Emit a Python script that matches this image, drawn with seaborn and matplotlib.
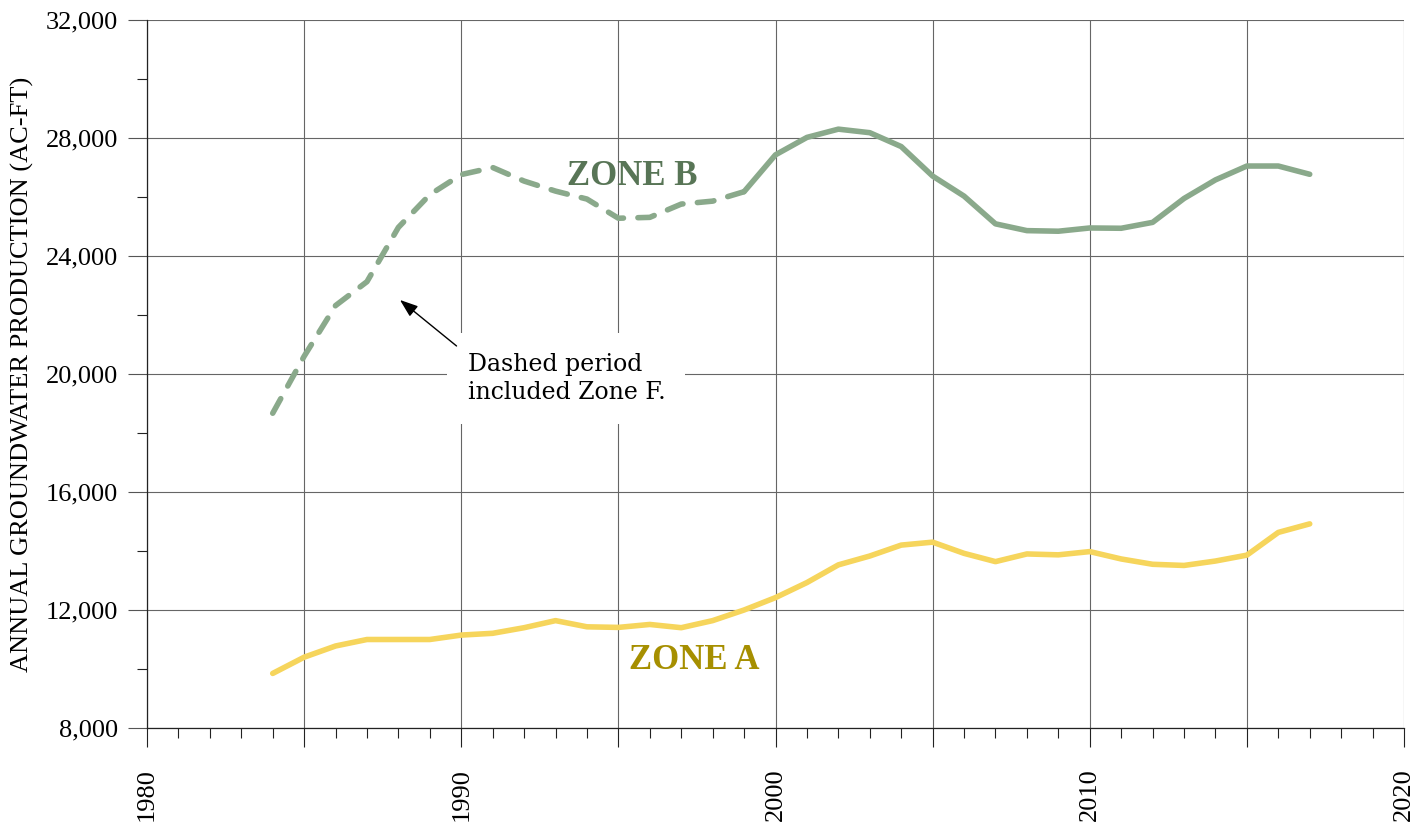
import pandas as pd
import seaborn as sns
import matplotlib.pyplot as plt
from matplotlib.ticker import MultipleLocator, FixedLocator, FuncFormatter

# Dados (produção anual, AC-FT)
years = list(range(1984, 2018))
zone_a = [9850, 10400, 10780, 11000, 11000, 11000, 11150, 11210, 11400, 11640,
          11430, 11410, 11510, 11400, 11640, 12000, 12420, 12930, 13530, 13830,
          14200, 14300, 13920, 13640, 13900, 13870, 13980, 13730, 13550, 13510,
          13660, 13860, 14630, 14920]
zone_b = [18670, 20600, 22320, 23130, 24970, 26080, 26760, 27000, 26540, 26200,
          25930, 25280, 25310, 25760, 25860, 26180, 27430, 28020, 28300, 28180,
          27710, 26710, 26030, 25090, 24860, 24840, 24950, 24940, 25140, 25950,
          26580, 27050, 27050, 26770]
dashed_until = 1999  # período tracejado incluiu a Zona F

x_major = [1980, 1985, 1990, 1995, 2000, 2005, 2010, 2015, 2020]
x_labels = ['1980', '', '1990', '', '2000', '', '2010', '', '2020']
y_major = [8000, 12000, 16000, 20000, 24000, 28000, 32000]

df = pd.DataFrame({'year': years, 'zone_a': zone_a, 'zone_b': zone_b})
df_b_dash = df[df['year'] <= dashed_until]
df_b_solid = df[df['year'] >= dashed_until]

sns.set_style("ticks")
plt.rcParams['font.family'] = ['Liberation Serif', 'DejaVu Serif']
plt.rcParams['text.color'] = 'black'
plt.rcParams['axes.labelcolor'] = 'black'
plt.rcParams['xtick.labelcolor'] = 'black'
plt.rcParams['ytick.labelcolor'] = 'black'

col_a = '#f6d55c'
col_b = '#8aa98b'
lw = 4.0

fig = plt.figure(figsize=(14.28, 8.27), dpi=100)
ax = fig.add_axes([147 / 1428, 1 - 728 / 827, (1404 - 147) / 1428, (728 - 20) / 827])

sns.lineplot(data=df, x='year', y='zone_a', ax=ax, color=col_a, lw=lw,
             solid_capstyle='round', zorder=3)
sns.lineplot(data=df_b_solid, x='year', y='zone_b', ax=ax, color=col_b, lw=lw,
             solid_capstyle='round', zorder=3)
sns.lineplot(data=df_b_dash, x='year', y='zone_b', ax=ax, color=col_b, lw=lw,
             zorder=3)
ax.lines[-1].set_dashes((3.0, 2.6))
ax.lines[-1].set_dash_capstyle('round')

ax.set_xlim(1980, 2020)
ax.set_ylim(8000, 32000)

ax.xaxis.set_major_locator(FixedLocator(x_major))
ax.set_xticklabels(x_labels, rotation=90)
ax.xaxis.set_minor_locator(MultipleLocator(1))
ax.yaxis.set_major_locator(FixedLocator(y_major))
ax.yaxis.set_minor_locator(MultipleLocator(2000))
ax.yaxis.set_major_formatter(FuncFormatter(lambda v, p: f'{int(v):,}'))

ax.tick_params(axis='x', which='major', length=14, width=0.8, color='#222222',
               labelsize=19, pad=15, direction='out')
ax.tick_params(axis='x', which='minor', length=7, width=0.8, color='#222222',
               direction='out')
ax.tick_params(axis='y', which='major', length=14, width=0.8, color='#555555',
               labelsize=19, pad=7, direction='out')
ax.tick_params(axis='y', which='minor', length=7, width=0.8, color='#222222',
               direction='out')

ax.grid(True, which='major', color='#666666', lw=0.8)
for s in ['top', 'right']:
    ax.spines[s].set_visible(False)
for s in ['left', 'bottom']:
    ax.spines[s].set_color('#222222')
    ax.spines[s].set_linewidth(0.9)

ax.set_xlabel('')
ax.set_ylabel('ANNUAL GROUNDWATER PRODUCTION (AC-FT)', fontsize=19, labelpad=8)

# Rótulos das zonas
ax.text(1995.43, 26700, 'ZONE B', fontsize=25, fontweight='bold',
        color='#587556', ha='center', va='center', zorder=4)
ax.text(1997.4, 10300, 'ZONE A', fontsize=25, fontweight='bold',
        color='#a68f00', ha='center', va='center', zorder=4)

# Nota sobre o período tracejado
ax.text(1990.2, 20700, 'Dashed period\nincluded Zone F.', fontsize=17,
        family=['DejaVu Serif'], color='black', ha='left', va='top',
        linespacing=1.25,
        bbox=dict(boxstyle='square,pad=0.85', fc='white', ec='none'), zorder=4)
ax.annotate('', xy=(1988.05, 22510), xytext=(1989.85, 20950),
            arrowprops=dict(arrowstyle='-|>,head_length=1.1,head_width=0.4',
                            color='black', lw=1.0, shrinkA=0, shrinkB=0),
            zorder=5)

fig.savefig('out.png', dpi=100)
